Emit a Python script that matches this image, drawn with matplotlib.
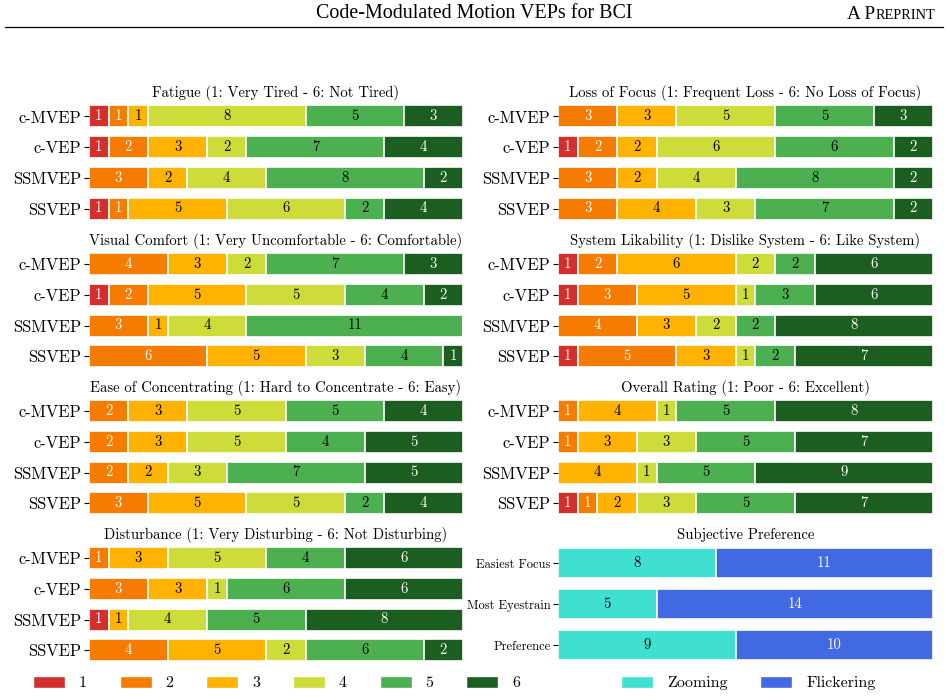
import matplotlib
matplotlib.use("Agg")
import matplotlib.pyplot as plt
from matplotlib.lines import Line2D
from matplotlib.patches import Patch

plt.rcParams["font.family"] = ["cmr10", "DejaVu Serif"]
plt.rcParams["axes.formatter.use_mathtext"] = True

methods = ["c-MVEP", "c-VEP", "SSMVEP", "SSVEP"]
levels = ["1", "2", "3", "4", "5", "6"]
level_colors = ["#D32F2F", "#F57C00", "#FFB300", "#CDDC39", "#4CAF50", "#1B5E20"]
level_text = ["white", "white", "black", "black", "black", "white"]

# counts of answers 1..6, one row per method
fatigue = [[1, 1, 1, 8, 5, 3], [1, 2, 3, 2, 7, 4], [0, 3, 2, 4, 8, 2], [1, 1, 5, 6, 2, 4]]
loss_of_focus = [[0, 3, 3, 5, 5, 3], [1, 2, 2, 6, 6, 2], [0, 3, 2, 4, 8, 2], [0, 3, 4, 3, 7, 2]]
visual_comfort = [[0, 4, 3, 2, 7, 3], [1, 2, 5, 5, 4, 2], [0, 3, 1, 4, 11, 0], [0, 6, 5, 3, 4, 1]]
likability = [[1, 2, 6, 2, 2, 6], [1, 3, 5, 1, 3, 6], [0, 4, 3, 2, 2, 8], [1, 5, 3, 1, 2, 7]]
concentrating = [[0, 2, 3, 5, 5, 4], [0, 2, 3, 5, 4, 5], [0, 2, 2, 3, 7, 5], [0, 3, 5, 5, 2, 4]]
overall = [[0, 1, 4, 1, 5, 8], [0, 1, 3, 3, 5, 7], [0, 0, 4, 1, 5, 9], [1, 1, 2, 3, 5, 7]]
disturbance = [[0, 1, 3, 5, 4, 6], [0, 3, 3, 1, 6, 6], [1, 0, 1, 4, 5, 8], [0, 4, 5, 2, 6, 2]]

pref_items = ["Easiest Focus", "Most Eyestrain", "Preference"]
pref_zooming = [8, 5, 9]
pref_flickering = [11, 14, 10]
pref_names = ["Zooming", "Flickering"]
pref_colors = ["#40E0D0", "#4169E1"]
pref_text = ["black", "white"]

W, H = 948, 698
fig = plt.figure(figsize=(W / 100, H / 100), dpi=100)


def add_ax(x, top, w=374, h=123):
    return fig.add_axes([x / W, 1 - (top + h) / H, w / W, h / H])


def stacked(ax, names, series, colors, text_colors, title, tick_size=11.9):
    ypos = list(range(len(names)))
    left = [0] * len(names)
    for j, color in enumerate(colors):
        vals = [row[j] for row in series]
        bars = ax.barh(ypos, vals, left=left, height=0.72, color=color, edgecolor="white", linewidth=1.2)
        for b, v in zip(bars, vals):
            if v > 0:
                ax.text(b.get_x() + b.get_width() / 2, b.get_y() + b.get_height() / 2, str(v),
                        ha="center", va="center", fontsize=10.7, color=text_colors[j])
        left = [a + v for a, v in zip(left, vals)]
    ax.set_xlim(0, sum(series[0]))
    ax.set_ylim(len(names) - 0.5, -0.5)
    ax.set_yticks(ypos)
    ax.set_yticklabels(names, fontsize=tick_size)
    ax.tick_params(axis="y", length=3.5, width=0.8, pad=2)
    ax.set_xticks([])
    for s in ax.spines.values():
        s.set_visible(False)
    ax.set_title(title, fontsize=10.6, pad=3)


tops = [101, 248.7, 395.7, 542.7]
left_panels = [
    (fatigue, "Fatigue (1: Very Tired - 6: Not Tired)"),
    (visual_comfort, "Visual Comfort (1: Very Uncomfortable - 6: Comfortable)"),
    (concentrating, "Ease of Concentrating (1: Hard to Concentrate - 6: Easy)"),
    (disturbance, "Disturbance (1: Very Disturbing - 6: Not Disturbing)"),
]
right_panels = [
    (loss_of_focus, "Loss of Focus (1: Frequent Loss - 6: No Loss of Focus)"),
    (likability, "System Likability (1: Dislike System - 6: Like System)"),
    (overall, "Overall Rating (1: Poor - 6: Excellent)"),
]

for top, (data, title) in zip(tops, left_panels):
    stacked(add_ax(89, top), methods, data, level_colors, level_text, title)
for top, (data, title) in zip(tops, right_panels):
    stacked(add_ax(558, top, 375), methods, data, level_colors, level_text, title)

pref = [list(p) for p in zip(pref_zooming, pref_flickering)]
stacked(add_ax(558, tops[3], 375), pref_items, pref, pref_colors, pref_text,
        "Subjective Preference", tick_size=9)

# legends
leg_kw = dict(frameon=False, fontsize=11.5, handlelength=2.0, handleheight=0.85,
              handletextpad=0.88, columnspacing=2.05, borderpad=0, borderaxespad=0)
fig.legend([Patch(facecolor=c, edgecolor="white") for c in level_colors], levels,
           loc="center left", bbox_to_anchor=(33 / W, 1 - 683 / H), ncol=6, **leg_kw)
fig.legend([Patch(facecolor=c, edgecolor="white") for c in pref_colors], pref_names,
           loc="center left", bbox_to_anchor=(621 / W, 1 - 683 / H), ncol=2, **leg_kw)

# page header
fig.text(474 / W, 1 - 14 / H, "Code-Modulated Motion VEPs for BCI", family="Liberation Serif",
         fontsize=14.4, ha="center", va="center")
t_small = fig.text(935 / W, 1 - 19 / H, "REPRINT", family="Liberation Serif", fontsize=10.4,
                   ha="right", va="baseline")
fig.canvas.draw()
x0 = t_small.get_window_extent().x0
fig.text(x0 / W, 1 - 19 / H, "A P", family="Liberation Serif", fontsize=13.8, ha="right", va="baseline")
fig.add_artist(Line2D([5 / W, 943 / W], [1 - 27 / H, 1 - 27 / H], color="black", lw=0.9))

fig.savefig("out.png", dpi=100)
